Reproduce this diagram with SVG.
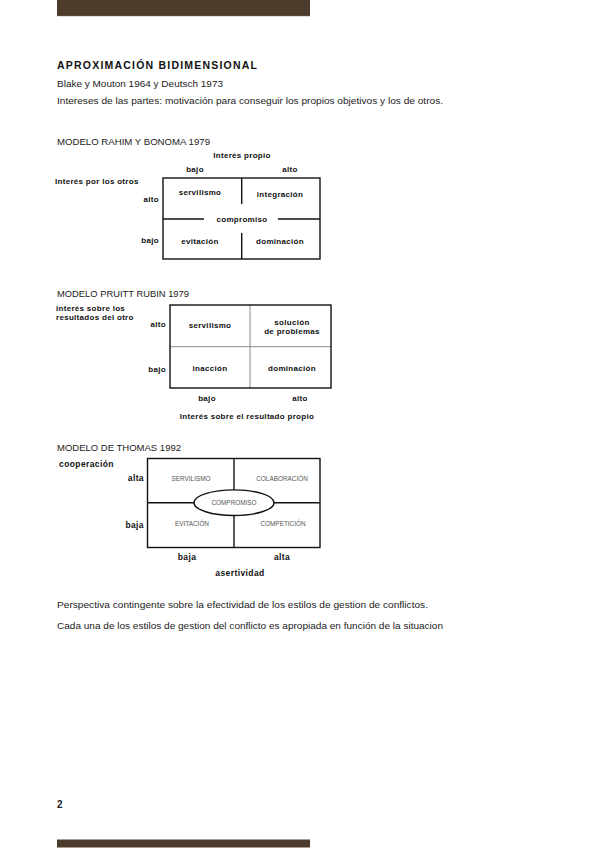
<svg xmlns="http://www.w3.org/2000/svg" width="599" height="848" viewBox="0 0 599 848">
<style>
.body{font-family:"Liberation Sans",Arial,sans-serif;font-size:9px;fill:#222}
.lb{font-family:"Liberation Sans",Arial,sans-serif;font-size:8px;font-weight:bold;fill:#111;letter-spacing:0.3px}
.lt{font-family:"Liberation Sans",Arial,sans-serif;font-size:8.5px;font-weight:bold;fill:#111;letter-spacing:0.4px}
.th{font-family:"Liberation Sans",Arial,sans-serif;font-size:6.4px;fill:#555}
.mid{text-anchor:middle}
.end{text-anchor:end}
.box{fill:none;stroke:#111;stroke-width:1.4}
.ln{stroke:#111;stroke-width:1.4}
.gl{stroke:#888;stroke-width:1}
</style>
<rect width="599" height="848" fill="#fff"/>
<rect x="57" y="0" width="253" height="16" fill="#4d3b2c"/>
<line x1="57" y1="16.3" x2="310" y2="16.3" stroke="#bbb" stroke-width="0.6"/>
<rect x="57" y="839.5" width="253" height="8" fill="#4d3b2c"/>

<text x="57" y="69" font-family="Liberation Sans,Arial,sans-serif" font-size="10.5" font-weight="bold" fill="#111" textLength="200" lengthAdjust="spacing">APROXIMACIÓN BIDIMENSIONAL</text>
<text class="body" x="57" y="86.5" textLength="166" lengthAdjust="spacingAndGlyphs">Blake y Mouton 1964 y Deutsch 1973</text>
<text class="body" x="57" y="104" textLength="386" lengthAdjust="spacingAndGlyphs">Intereses de las partes: motivación para conseguir los propios objetivos y los de otros.</text>

<text class="body" x="57" y="145" textLength="153" lengthAdjust="spacingAndGlyphs">MODELO RAHIM Y BONOMA 1979</text>
<g id="rahim">
<rect class="box" x="163" y="178" width="157" height="81"/>
<line class="ln" x1="241.7" y1="178" x2="241.7" y2="204"/>
<line class="ln" x1="241.7" y1="233" x2="241.7" y2="259"/>
<line class="ln" x1="163" y1="219" x2="204" y2="219"/>
<line class="ln" x1="278" y1="219" x2="320" y2="219"/>
<text class="lb mid" x="242" y="158">Interés propio</text>
<text class="lb mid" x="195" y="172">bajo</text>
<text class="lb mid" x="290" y="172">alto</text>
<text class="lb" x="55" y="184">Interés por los otros</text>
<text class="lb end" x="159" y="202">alto</text>
<text class="lb end" x="159" y="243">bajo</text>
<text class="lb mid" x="200" y="195">servilismo</text>
<text class="lb mid" x="280" y="197">integración</text>
<text class="lb mid" x="242" y="222">compromiso</text>
<text class="lb mid" x="200" y="244">evitación</text>
<text class="lb mid" x="280" y="244">dominación</text>
</g>

<text class="body" x="57" y="296.5" textLength="132" lengthAdjust="spacingAndGlyphs">MODELO PRUITT RUBIN 1979</text>
<g id="pruitt">
<line class="gl" x1="250" y1="305" x2="250" y2="388"/>
<line class="gl" x1="170" y1="346.7" x2="331" y2="346.7"/>
<rect class="box" x="170" y="305" width="161" height="83"/>
<text class="lb" x="56" y="311">interés sobre los</text>
<text class="lb" x="56" y="319.5">resultados del otro</text>
<text class="lb end" x="166" y="327">alto</text>
<text class="lb end" x="166" y="372">bajo</text>
<text class="lb mid" x="210" y="328">servilismo</text>
<text class="lb mid" x="292" y="325">solución</text>
<text class="lb mid" x="292" y="334">de problemas</text>
<text class="lb mid" x="210" y="371">inacción</text>
<text class="lb mid" x="292" y="371">dominación</text>
<text class="lb mid" x="207" y="401">bajo</text>
<text class="lb mid" x="300" y="401">alto</text>
<text class="lb mid" x="247" y="419">Interés sobre el resultado propio</text>
</g>

<text class="body" x="57" y="451" textLength="124" lengthAdjust="spacingAndGlyphs">MODELO DE THOMAS 1992</text>
<g id="thomas">
<rect class="box" x="147.5" y="458.5" width="172.5" height="89"/>
<line class="ln" x1="234" y1="458.5" x2="234" y2="547.5"/>
<line class="ln" x1="147.5" y1="502.7" x2="320" y2="502.7"/>
<ellipse cx="234" cy="502.7" rx="40" ry="12.8" fill="#fff" stroke="#111" stroke-width="1.4"/>
<text class="th mid" x="191" y="481">SERVILISMO</text>
<text class="th mid" x="282" y="481">COLABORACIÓN</text>
<text class="th mid" x="234" y="505">COMPROMISO</text>
<text class="th mid" x="192" y="526">EVITACIÓN</text>
<text class="th mid" x="283" y="526">COMPETICIÓN</text>
<text class="lt" x="59" y="467">cooperación</text>
<text class="lt end" x="144" y="481">alta</text>
<text class="lt end" x="144" y="528">baja</text>
<text class="lt mid" x="187" y="560">baja</text>
<text class="lt mid" x="282" y="560">alta</text>
<text class="lt mid" x="240" y="576">asertividad</text>
</g>

<text class="body" x="57" y="608" textLength="371" lengthAdjust="spacingAndGlyphs">Perspectiva contingente sobre la efectividad de los estilos de gestion de conflictos.</text>
<text class="body" x="57" y="629" textLength="386" lengthAdjust="spacingAndGlyphs">Cada una de los estilos de gestion del conflicto es apropiada en función de la situacion</text>
<text x="57" y="808" font-family="Liberation Sans,Arial,sans-serif" font-size="10" font-weight="bold" fill="#222">2</text>
</svg>
